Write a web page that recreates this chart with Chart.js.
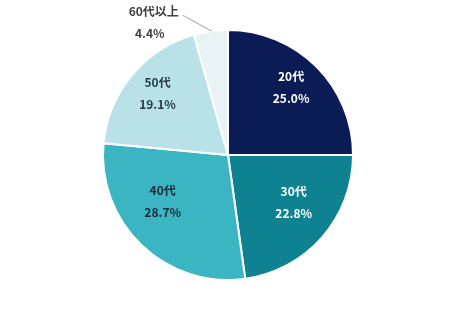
<!DOCTYPE html>
<html>
<head>
<meta charset="utf-8">
<script src="https://cdn.jsdelivr.net/npm/chart.js@4"></script>
<style>
  html, body { margin: 0; padding: 0; background: #fff; }
  #wrap { width: 460px; height: 313px; }
</style>
</head>
<body>
<div id="wrap"><canvas id="pieChart" width="460" height="313"></canvas></div>
<script>
const categories = ['20代', '30代', '40代', '50代', '60代以上'];
const shares = [25.0, 22.8, 28.7, 19.1, 4.4];
const sliceColors = ['#0b1b55', '#0f8291', '#3bb5c1', '#b8e2e8', '#e7f3f5'];
const labelColors = ['#ffffff', '#ffffff', '#1b2a3a', '#2a3a48', '#404040'];

const FONT = 'bold 12px "Noto Sans CJK JP", "Noto Sans", sans-serif';

// label placement inside slices: fraction of radius + small angle nudge (deg)
const labelRadius = [0.74, 0.65, 0.64, 0.75];
const labelNudge = [-2, -5, 11, 1.5];

// draws the two-line labels; the small last slice gets an outside label with a leader line
const sliceLabels = {
    id: 'sliceLabels',
    afterDatasetsDraw(chart) {
        const ctx = chart.ctx;
        const arcs = chart.getDatasetMeta(0).data;
        ctx.save();
        ctx.font = FONT;
        ctx.textAlign = 'center';
        ctx.textBaseline = 'middle';
        arcs.forEach((arc, i) => {
            const mid = (arc.startAngle + arc.endAngle) / 2;
            const pct = shares[i].toFixed(1) + '%';
            ctx.fillStyle = labelColors[i];
            if (i === shares.length - 1) {
                // outside label
                const ex = arc.x + Math.cos(mid) * arc.outerRadius;
                const ey = arc.y + Math.sin(mid) * arc.outerRadius;
                ctx.strokeStyle = '#a0a0a0';
                ctx.lineWidth = 1;
                ctx.beginPath();
                ctx.moveTo(ex + 1, ey);
                ctx.lineTo(ex - 28, ey - 16);
                ctx.stroke();
                ctx.fillText(categories[i], ex - 57, ey - 20);
                ctx.fillText(pct, ex - 61, ey + 2);
            } else {
                const a = mid + labelNudge[i] * Math.PI / 180;
                const r = arc.outerRadius * labelRadius[i];
                const cx = arc.x + Math.cos(a) * r;
                const cy = arc.y + Math.sin(a) * r;
                ctx.fillText(categories[i], cx, cy - 11);
                ctx.fillText(pct, cx, cy + 11);
            }
        });
        ctx.restore();
    }
};

new Chart(document.getElementById('pieChart').getContext('2d'), {
    type: 'pie',
    data: {
        labels: categories,
        datasets: [{
            data: shares,
            backgroundColor: sliceColors,
            borderColor: '#ffffff',
            borderWidth: 2
        }]
    },
    options: {
        responsive: false,
        animation: false,
        layout: { padding: { top: 29, bottom: 32, left: 0, right: 4 } },
        plugins: {
            legend: { display: false },
            tooltip: { enabled: false }
        }
    },
    plugins: [sliceLabels]
});
</script>
</body>
</html>
